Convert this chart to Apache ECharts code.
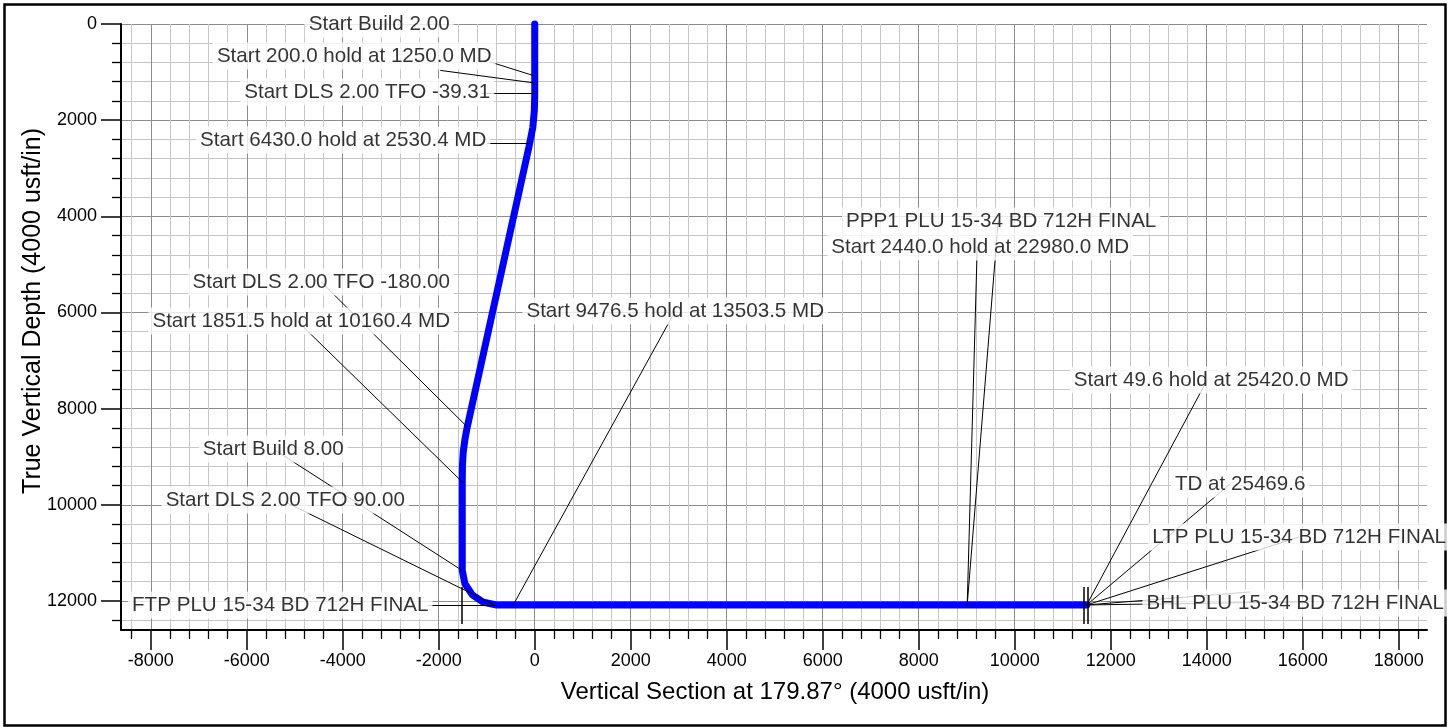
<!DOCTYPE html>
<html>
<head>
<meta charset="utf-8">
<script src="https://cdn.jsdelivr.net/npm/echarts@6/dist/echarts.min.js"></script>
<style>
  html, body { margin: 0; padding: 0; background: #fff; }
  #chart { width: 1453px; height: 727px; }
</style>
</head>
<body>
<div id="chart"></div>
<script>
// well path: vertical section (usft) vs true vertical depth (usft)
const pathVS  = [0, 0, 0, -8, -40, -115, -1406, -1456, -1490, -1506, -1510, -1510, -1455, -1300, -1069, -794, 11500];
const pathTVD = [0, 1250, 1450, 1800, 2150, 2530, 8381, 8652, 8901, 9172, 9525, 11367, 11641, 11873, 12028, 12083, 12083];

// annotation texts and where they sit
const annoText = [
  'Start Build 2.00',
  'Start 200.0 hold at 1250.0 MD',
  'Start DLS 2.00 TFO -39.31',
  'Start 6430.0 hold at 2530.4 MD',
  'PPP1 PLU 15-34 BD 712H FINAL',
  'Start 2440.0 hold at 22980.0 MD',
  'Start DLS 2.00 TFO -180.00',
  'Start 1851.5 hold at 10160.4 MD',
  'Start 9476.5 hold at 13503.5 MD',
  'Start 49.6 hold at 25420.0 MD',
  'Start Build 8.00',
  'TD at 25469.6',
  'Start DLS 2.00 TFO 90.00',
  'LTP PLU 15-34 BD 712H FINAL',
  'FTP PLU 15-34 BD 712H FINAL',
  'BHL PLU 15-34 BD 712H FINAL'
];
const annoVS  = [-3240, -3760, -3490, -3990, 9719, 9281, -4448, -4865, 2927, 14094, -5448, 14698, -5198, 15927, -5302, 15844];
const annoTVD = [0, 666, 1414, 2412, 4097, 4638, 5366, 6177, 5969, 7404, 8839, 9567, 9900, 10669, 12083, 12042];

// leader lines: from (VS, TVD) to (VS, TVD)
const leaderFromVS  = [-927, -1969, -1100, -990, 9656, 9219, -4448, -4948, 2927, 14010, -5448, -5198, -2219, 14490, 15927, 15885, 14906];
const leaderFromTVD = [790, 965, 1435, 2475, 4097, 4638, 5366, 6177, 5969, 7404, 8839, 9941, 12083, 9567, 10669, 12021, 11813];
const leaderToVS    = [0, 0, 0, -110, 9010, 9010, -1406, -1510, -448, 11500, -1510, -830, -800, 11500, 11500, 11500, 11500];
const leaderToTVD   = [1081, 1227, 1435, 2480, 12083, 12083, 8381, 9525, 12083, 12083, 11367, 12083, 12083, 12083, 12083, 12083, 12083];

// short target marks
const markVS     = [-1531, 11448, 11521];
const markTopTVD = [11709, 11709, 11709];
const markBotTVD = [12478, 12478, 12478];

// axis ticks
const xMajor = [-8000, -6000, -4000, -2000, 0, 2000, 4000, 6000, 8000, 10000, 12000, 14000, 16000, 18000];
const yMajor = [0, 2000, 4000, 6000, 8000, 10000, 12000];
const xMinor = [];
for (let v = -8400; v <= 18400; v += 400) if (v % 2000 !== 0) xMinor.push(v);
const yMinor = [];
for (let v = 400; v <= 12400; v += 400) if (v % 2000 !== 0) yMinor.push(v);

const xMin = -8620, xMax = 18590;
const yMin = 0, yMax = 12604;

const font = '"Liberation Sans", Arial, sans-serif';
const minorGrid = '#c6c6c6';
const majorGrid = '#8c8c8c';

const chart = echarts.init(document.getElementById('chart'));

function minorAxis(min, max, ticks, pos, extra) {
  return Object.assign({
    type: 'value', position: pos, min: min, max: max,
    axisLine: { show: true, onZero: false, lineStyle: { color: '#000', width: 2 } },
    axisTick: { show: true, customValues: ticks, length: 9, lineStyle: { color: '#000', width: 1.3 } },
    axisLabel: { show: false },
    splitLine: { show: true, lineStyle: { color: minorGrid, width: 1 } }
  }, extra);
}
function majorAxis(min, max, ticks, pos, margin, extra) {
  return Object.assign({
    type: 'value', position: pos, min: min, max: max,
    axisLine: { show: false, onZero: false },
    axisTick: { show: true, customValues: ticks, length: 20, lineStyle: { color: '#000', width: 1.5 } },
    axisLabel: { show: true, customValues: ticks, margin: margin, color: '#000', fontSize: 18, fontFamily: font,
                 formatter: v => String(v) },
    splitLine: { show: true, lineStyle: { color: majorGrid, width: 1 } }
  }, extra);
}

chart.setOption({
  animation: false,
  backgroundColor: '#fff',
  grid: { left: 121, top: 24, width: 1306, height: 606, containLabel: false },
  xAxis: [
    minorAxis(xMin, xMax, xMinor, 'bottom', {}),
    majorAxis(xMin, xMax, xMajor, 'bottom', 22, {})
  ],
  yAxis: [
    minorAxis(yMin, yMax, yMinor, 'left', { inverse: true }),
    majorAxis(yMin, yMax, yMajor, 'left', 24, { inverse: true })
  ],
  graphic: [
    { type: 'rect', z: 0, silent: true,
      shape: { x: 4.5, y: 4.5, width: 1441, height: 721 },
      style: { fill: 'none', stroke: '#000', lineWidth: 2.5 } },
    { type: 'text', x: 775, y: 692, silent: true,
      style: { text: 'Vertical Section at 179.87° (4000 usft/in)', fill: '#000', fontSize: 24, fontFamily: font,
               align: 'center', verticalAlign: 'middle', textAlign: 'center', textVerticalAlign: 'middle' } },
    { type: 'text', x: 33, y: 311, rotation: Math.PI / 2, silent: true,
      style: { text: 'True Vertical Depth (4000 usft/in)', fill: '#000', fontSize: 25, fontFamily: font,
               align: 'center', verticalAlign: 'middle', textAlign: 'center', textVerticalAlign: 'middle' } }
  ],
  series: [
    {
      type: 'line', z: 2, silent: true, symbol: 'none', smooth: false, clip: false,
      data: pathVS.map((v, i) => [v, pathTVD[i]]),
      lineStyle: { color: '#0000ff', width: 7, cap: 'round', join: 'round' }
    },
    {
      type: 'lines', coordinateSystem: 'cartesian2d', z: 3, silent: true,
      data: leaderFromVS.map((v, i) => ({ coords: [[v, leaderFromTVD[i]], [leaderToVS[i], leaderToTVD[i]]] })),
      lineStyle: { color: '#000', width: 1, opacity: 1 }
    },
    {
      type: 'lines', coordinateSystem: 'cartesian2d', z: 3, silent: true,
      data: markVS.map((v, i) => ({ coords: [[v, markTopTVD[i]], [v, markBotTVD[i]]] })),
      lineStyle: { color: '#000', width: 1.5, opacity: 1 }
    },
    {
      type: 'scatter', z: 5, silent: true, symbolSize: 1,
      itemStyle: { color: 'rgba(0,0,0,0)' },
      data: annoText.map((t, i) => ({ name: t, value: [annoVS[i], annoTVD[i]] })),
      label: {
        show: true, position: 'inside', formatter: '{b}', color: '#000',
        textBorderWidth: 0, textShadowBlur: 0,
        fontSize: 20.6, fontFamily: font, backgroundColor: '#fff', padding: [3, 4]
      }
    }
  ]
});
</script>
</body>
</html>
